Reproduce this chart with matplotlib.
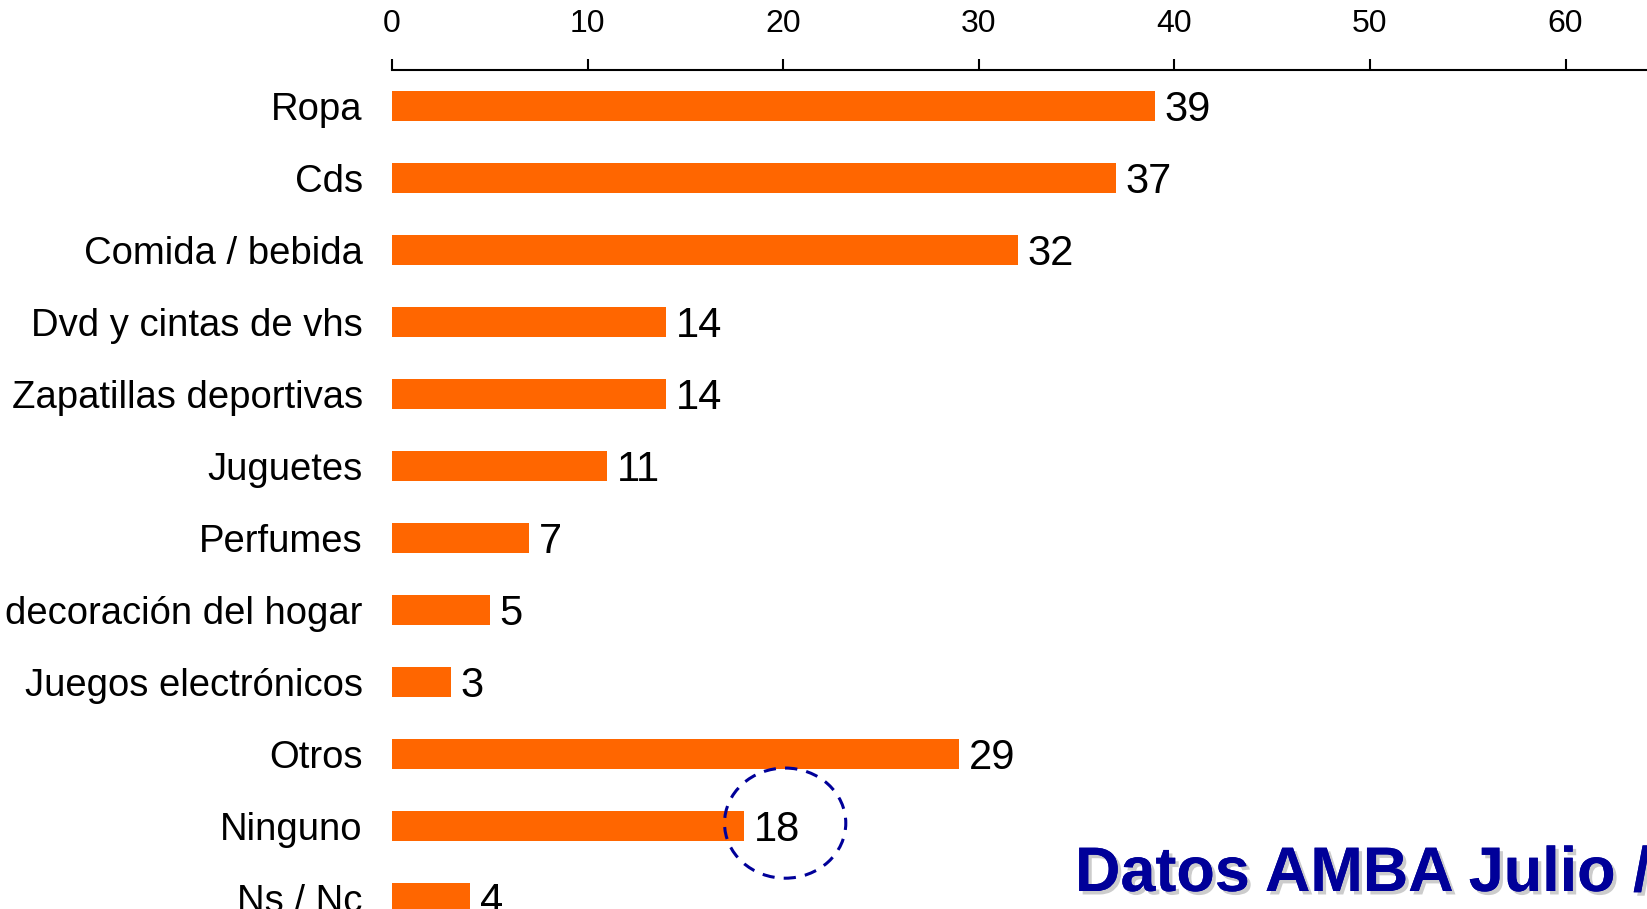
import matplotlib
matplotlib.use("Agg")
import matplotlib.pyplot as plt
import matplotlib.patheffects as pe
from matplotlib.patches import Ellipse

plt.rcParams['font.family'] = ['Liberation Sans', 'DejaVu Sans']

# Data
categories = ["Ropa", "Cds", "Comida / bebida", "Dvd y cintas de vhs",
              "Zapatillas deportivas", "Juguetes", "Perfumes",
              "decoración del hogar", "Juegos electrónicos", "Otros",
              "Ninguno", "Ns / Nc"]
values = [39, 37, 32, 14, 14, 11, 7, 5, 3, 29, 18, 4]
xticks = [0, 10, 20, 30, 40, 50, 60, 70]
highlight = "Ninguno"
note = "Datos AMBA Julio / Agosto"

W, H = 1647, 909
fig = plt.figure(figsize=(W / 100, H / 100), dpi=100)
# axes: x=0 at 392px, 19.56 px per unit; top at 70px, 72px per row
ax = fig.add_axes([392 / W, 1 - 934 / H, 70 * 19.56 / W, 864 / H])

y = list(range(len(categories)))
ax.barh(y, values, height=0.43, color="#FF6600")
ax.set_xlim(0, 70)
ax.set_ylim(len(categories) - 0.5, -0.5)

ax.set_yticks(y)
ax.set_yticklabels(categories, fontsize=27.5)
ax.tick_params(axis="y", length=0, pad=21)

ax.xaxis.tick_top()
ax.set_xticks(xticks)
ax.tick_params(axis="x", labelsize=23, length=8, width=1.5, pad=14, direction="out")

for s in ["left", "right", "bottom"]:
    ax.spines[s].set_visible(False)
ax.spines["top"].set_linewidth(1.5)

for yi, v in zip(y, values):
    ax.text(v + 0.5, yi + 0.06, str(v), va="center", ha="left", fontsize=30)

# dashed circle around the "Ninguno" value
hi = categories.index(highlight)
ax.add_patch(Ellipse((values[hi] + 2.1, hi - 0.04), 6.2, 1.53, fill=False,
                     edgecolor="#000099", linestyle=(0, (4, 3)), linewidth=2.2,
                     clip_on=False))

fig.text(1075 / W, 1 - 891 / H, note, fontsize=45.3, fontweight="bold",
         color="#000099", ha="left", va="baseline",
         path_effects=[pe.withSimplePatchShadow(offset=(2.5, -2.5),
                                                shadow_rgbFace="#aaaaaa", alpha=0.6),
                       pe.Normal()])

fig.savefig("out.png", dpi=100)
